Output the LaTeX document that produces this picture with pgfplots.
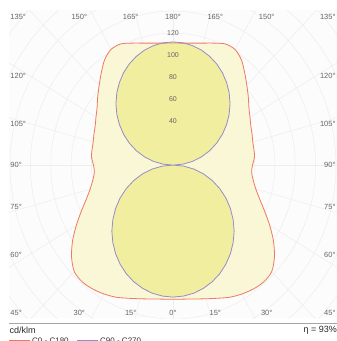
\documentclass[border=0pt]{standalone}
\usepackage{pgfplots}
\pgfplotsset{compat=1.18}
\usepackage{pgfplotstable}
\usepackage{fontspec}
\setmainfont{Liberation Sans}
\definecolor{c0col}{RGB}{238,120,100}
\definecolor{c90col}{RGB}{150,140,200}
\definecolor{outerfill}{RGB}{249,247,214}
\definecolor{innerfill}{RGB}{242,238,160}
\definecolor{gridc}{RGB}{237,237,240}
\definecolor{labc}{RGB}{100,100,100}
\definecolor{bgc}{RGB}{252,252,252}

\pgfplotstableread{
a c0 c90
-180 111 112
-175 111.3 111.6
-170 112.6 110.3
-165 114.8 108.2
-160 118 105.2
-155 121.5 101.5
-150 121.5 97.0
-145 117 91.7
-140 109.5 85.8
-135 102.5 79.2
-130 96.5 72.0
-125 91 64.2
-120 87.3 56.0
-115 84.3 47.3
-110 82.6 38.3
-105 81.1 29.0
-100 80.7 19.4
-95 80.3 9.8
-90 78 0
-85 77.5 10.5
-80 80 20.8
-75 84.2 31.1
-70 90.6 41.0
-65 99.3 50.7
-60 109.6 60.0
-55 120.4 68.8
-50 130 77.1
-45 137 84.9
-40 138.6 91.9
-35 137.5 98.3
-30 135.3 103.9
-25 132.5 108.8
-20 128.8 112.8
-15 125.8 115.9
-10 123.6 118.2
-5 122.3 119.5
0 122 120
5 122.3 119.5
10 123.6 118.2
15 125.8 115.9
20 128.8 112.8
25 132.5 108.8
30 135.3 103.9
35 137.5 98.3
40 138.6 91.9
45 137 84.9
50 130 77.1
55 120.4 68.8
60 109.6 60.0
65 99.3 50.7
70 90.6 41.0
75 84.2 31.1
80 80 20.8
85 77.5 10.5
90 78 0
95 80.3 9.8
100 80.7 19.4
105 81.1 29.0
110 82.6 38.3
115 84.3 47.3
120 87.3 56.0
125 91 64.2
130 96.5 72.0
135 102.5 79.2
140 109.5 85.8
145 117 91.7
150 121.5 97.0
155 121.5 101.5
160 118 105.2
165 114.8 108.2
170 112.6 110.3
175 111.3 111.6
180 111 112
}\ldt

\begin{document}
\begin{tikzpicture}[x=1pt,y=1pt]
\useasboundingbox (0,0) rectangle (337,341);
\begin{axis}[
  at={(9pt,23pt)}, anchor=south west,
  scale only axis, width=328pt, height=308pt,
  xmin=-161, xmax=161, ymin=-139, ymax=141,
  axis line style={draw=none}, ticks=none,
  axis background/.style={fill=bgc},
  clip=true,
]
\pgfplotsinvokeforeach{20,40,60,80,100,120,140,160,180,200}{
  \draw[gridc, line width=0.5pt] (axis cs:0,0) ellipse [x radius=#1, y radius=#1];
}
\pgfplotsinvokeforeach{0,15,30,45,60,75,90,105,120,135,150,165,180,195,210,225,240,255,270,285,300,315,330,345}{
  \draw[gridc, line width=0.5pt] (axis cs:0,0) -- (axis cs:{300*sin(#1)},{300*cos(#1)});
}
% fills
\addplot[draw=none, fill=outerfill, smooth] table[x expr={\thisrow{c0}*sin(\thisrow{a})}, y expr={-\thisrow{c0}*cos(\thisrow{a})}] {\ldt};
\addplot[draw=none, fill=innerfill] table[x expr={\thisrow{c90}*sin(\thisrow{a})}, y expr={-\thisrow{c90}*cos(\thisrow{a})}] {\ldt};
% outlines
\addplot[c0col, line width=0.8pt, smooth] table[x expr={\thisrow{c0}*sin(\thisrow{a})}, y expr={-\thisrow{c0}*cos(\thisrow{a})}] {\ldt};
\addplot[c90col, line width=0.8pt] table[x expr={\thisrow{c90}*sin(\thisrow{a})}, y expr={-\thisrow{c90}*cos(\thisrow{a})}] {\ldt};
% intensity labels
\foreach \v in {40,60,80,100,120} {
  \edef\tmp{\noexpand\node[font=\noexpand\fontsize{7}{8}\noexpand\selectfont, text=labc] at (axis cs:0,\v) {\v};}\tmp
}
% angle labels
\tikzset{al/.style={font=\fontsize{7.5}{8}\selectfont, text=labc, inner sep=0pt}}
\node[al] at (axis cs:-152,134.5) {135°};
\node[al] at (axis cs:-92,134.5) {150°};
\node[al] at (axis cs:-41.5,134.5) {165°};
\node[al] at (axis cs:0,134.5) {180°};
\node[al] at (axis cs:41.5,134.5) {165°};
\node[al] at (axis cs:92,134.5) {150°};
\node[al] at (axis cs:152,134.5) {135°};
\node[al] at (axis cs:-152,81) {120°};
\node[al] at (axis cs:152,81) {120°};
\node[al] at (axis cs:-152,37.5) {105°};
\node[al] at (axis cs:152,37.5) {105°};
\node[al] at (axis cs:-154,0.5) {90°};
\node[al] at (axis cs:154,0.5) {90°};
\node[al] at (axis cs:-154,-38) {75°};
\node[al] at (axis cs:154,-38) {75°};
\node[al] at (axis cs:-154,-81.5) {60°};
\node[al] at (axis cs:154,-81.5) {60°};
\node[al] at (axis cs:-154,-134.5) {45°};
\node[al] at (axis cs:-92,-134.5) {30°};
\node[al] at (axis cs:-41.5,-134.5) {15°};
\node[al] at (axis cs:0,-134.5) {0°};
\node[al] at (axis cs:41.5,-134.5) {15°};
\node[al] at (axis cs:92,-134.5) {30°};
\node[al] at (axis cs:154,-134.5) {45°};
\end{axis}
\draw[black!35, line width=0.9pt] (9,18) -- (337,18);
\node[anchor=west, inner sep=0pt, font=\fontsize{9}{10}\selectfont, text=black!85] at (9.5,10.5) {cd/klm};
\node[anchor=east, inner sep=0pt, font=\fontsize{9}{10}\selectfont, text=black!85] at (337,10.5) {η = 93\%};
\draw[c0col, line width=0.9pt] (9,0.6) -- (30,0.6);
\draw[c90col, line width=0.9pt] (77,0.6) -- (98,0.6);
\node[anchor=base west, inner sep=0pt, font=\fontsize{8}{9}\selectfont, text=black!80] at (32,-2.5) {C0 - C180};
\node[anchor=base west, inner sep=0pt, font=\fontsize{8}{9}\selectfont, text=black!80] at (100,-2.5) {C90 - C270};
\end{tikzpicture}
\end{document}
